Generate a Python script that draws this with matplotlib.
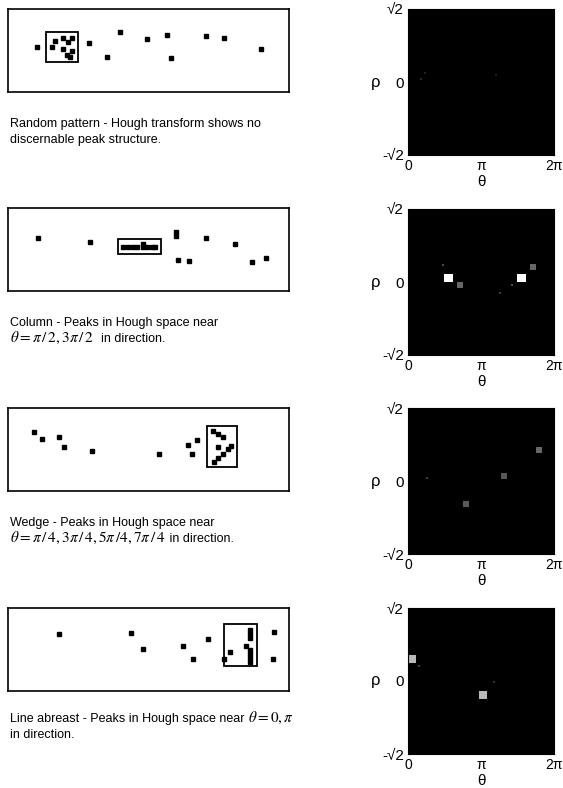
import numpy as np
import matplotlib
matplotlib.use("Agg")
import matplotlib.pyplot as plt
from matplotlib.patches import Rectangle

plt.rcParams["font.family"] = ["Liberation Sans", "DejaVu Sans"]
plt.rcParams["mathtext.fontset"] = "stix"

W, H = 563, 788

# --- point patterns (box-relative coordinates, y measured downward) ---
random_x = [28.7, 47, 43.7, 55.3, 59.7, 64.3, 55.3, 64.3, 58.7, 62,
            81.3, 99.3, 112, 138.7, 158.7, 163, 198, 216.3, 252.7]
random_y = [38.3, 31.7, 38.3, 28.7, 32.7, 29.3, 40.3, 41.7, 46, 47.7,
            33.7, 47.7, 23.3, 29.7, 25.7, 49.3, 27.3, 28.7, 40]
random_sel = (37.7, 23, 69.7, 53)

column_x = [29.7, 82, 114.7, 120, 125.3, 129.3, 134.7, 139.3, 143.7, 147.3, 135.3,
            167.7, 167.7, 170.3, 181, 197.7, 226.7, 244.3, 257.7]
column_y = [29.7, 34.3, 39.3, 39.3, 39.3, 39.3, 39.3, 39.3, 39.3, 39.3, 36.3,
            23.5, 28, 52, 53.3, 29.7, 36, 54, 49.7]
column_sel = (109.7, 31.3, 152.7, 46)

wedge_x = [26, 34, 50.7, 55.7, 83.7, 150.7, 179.7, 188.7, 183.7,
           204.7, 209.7, 215.3, 209.7, 223, 220.3, 215.3, 209.7, 206]
wedge_y = [24.3, 31, 29.3, 39, 43, 46.3, 37.3, 32.3, 45.7,
           23, 26.3, 29.3, 39, 37.7, 41, 46, 50.3, 53.7]
wedge_sel = (198.7, 17.7, 228.7, 58.7)

abreast_x = [51.3, 123, 134.7, 175.3, 184.7, 199.7, 216, 222, 237.7,
             242, 242, 242, 242, 242, 242, 242, 266.3, 264.7]
abreast_y = [26, 24.7, 41, 37.7, 51.3, 30.7, 51.3, 43.7, 38,
             22, 26.3, 30.3, 42, 46, 50, 53.7, 24.3, 51.3]
abreast_sel = (216.3, 16.3, 248.7, 58)

# --- Hough space peaks: (theta, rho, block size in cells, brightness) ---
random_peaks = [(0.55, 0.06, 1, 0.15), (0.74, 0.19, 1, 0.12), (3.82, 0.14, 1, 0.12)]
column_peaks = [(1.77, 0.094, 4, 1.0), (4.92, 0.094, 4, 1.0),
                (2.19, -0.068, 3, 0.4), (5.34, 0.277, 3, 0.4),
                (1.49, 0.32, 1, 0.3), (4.46, -0.068, 1, 0.3), (3.95, -0.22, 1, 0.25)]
wedge_peaks = [(5.59, 0.60, 3, 0.4), (4.11, 0.083, 3, 0.35),
               (2.52, -0.445, 3, 0.35), (0.85, 0.07, 1, 0.25)]
abreast_peaks = [(0.14, 0.44, 4, 0.72), (3.30, -0.26, 4, 0.72),
                 (0.50, 0.29, 1, 0.25), (3.68, -0.03, 1, 0.2)]

# caption lines, each as (text, size) segments
captions = [
    [[("Random pattern - Hough transform shows no", 9)],
     [("discernable peak structure.", 9)]],
    [[("Column - Peaks in Hough space near", 9)],
     [(r"$\theta = \pi\,/\,2, 3\pi\,/\,2$", 11), ("  in direction.", 9)]],
    [[("Wedge - Peaks in Hough space near", 9)],
     [(r"$\theta = \pi\,/\,4, 3\pi\,/\,4, 5\pi\,/4, 7\pi\,/\,4$", 11),
      (" in direction.", 9)]],
    [[("Line abreast - Peaks in Hough space near ", 9),
      (r"$\theta = 0, \pi$", 11)],
     [("in direction.", 9)]],
]

patterns = [
    (random_x, random_y, random_sel, random_peaks),
    (column_x, column_y, column_sel, column_peaks),
    (wedge_x, wedge_y, wedge_sel, wedge_peaks),
    (abreast_x, abreast_y, abreast_sel, abreast_peaks),
]

box_tops = [9, 208, 408, 608]
hough_tops = [9, 209, 408, 608]
caption_base = [127, 326, 526, 722]

BOX_W, BOX_H = 281, 83
HOUGH_X, HOUGH_W, HOUGH_H = 408, 146, 146
NGRID = 72
R2 = np.sqrt(2)


def px(x, y, w, h):
    return [x / W, 1 - (y + h) / H, w / W, h / H]


def accumulator(peaks):
    acc = np.zeros((NGRID, NGRID))
    for th, rho, n, val in peaks:
        c = int(th / (2 * np.pi) * NGRID)
        r = int((rho + R2) / (2 * R2) * NGRID)
        c0 = max(c - n // 2, 0)
        r0 = max(r - n // 2, 0)
        acc[r0:r0 + n, c0:c0 + n] = val
    return acc


fig = plt.figure(figsize=(W / 100, H / 100), dpi=100)
renderer = fig.canvas.get_renderer()

for i, (xs, ys, sel, peaks) in enumerate(patterns):
    # point pattern panel
    ax = fig.add_axes(px(8, box_tops[i], BOX_W, BOX_H))
    ax.plot(xs, ys, "s", ms=3.0, color="black")
    x0, y0, x1, y1 = sel
    ax.add_patch(Rectangle((x0, y0), x1 - x0, y1 - y0, fill=False,
                           lw=1.3, edgecolor="black"))
    ax.set_xlim(0, BOX_W)
    ax.set_ylim(BOX_H, 0)
    ax.set_xticks([])
    ax.set_yticks([])
    for s in ax.spines.values():
        s.set_linewidth(1.2)

    # Hough space panel
    hx = fig.add_axes(px(HOUGH_X, hough_tops[i], HOUGH_W, HOUGH_H))
    hx.imshow(accumulator(peaks), cmap="gray", vmin=0, vmax=1,
              extent=[0, 2 * np.pi, -R2, R2], origin="lower",
              aspect="auto", interpolation="nearest")
    hx.set_xlim(0, 2 * np.pi)
    hx.set_ylim(-R2, R2)
    hx.set_xticks([0, np.pi, 2 * np.pi])
    hx.set_xticklabels(["0", "π", "2π"], fontsize=10)
    hx.set_yticks([-R2, 0, R2])
    hx.set_yticklabels(["-√2", "0", "√2"], fontsize=11)
    hx.tick_params(length=0, pad=3)
    hx.set_xlabel("θ", fontsize=11, labelpad=1)
    hx.text(-0.22, 0.5, "ρ", transform=hx.transAxes, fontsize=12,
            ha="center", va="center")

    # caption: segments placed one after another on a shared baseline
    for j, line in enumerate(captions[i]):
        x = 10
        y = 1 - (caption_base[i] + 15.5 * j) / H
        for text, size in line:
            t = fig.text(x / W, y, text, fontsize=size, ha="left", va="baseline")
            x = t.get_window_extent(renderer).x1

fig.savefig("out.png", dpi=100, facecolor="white")
